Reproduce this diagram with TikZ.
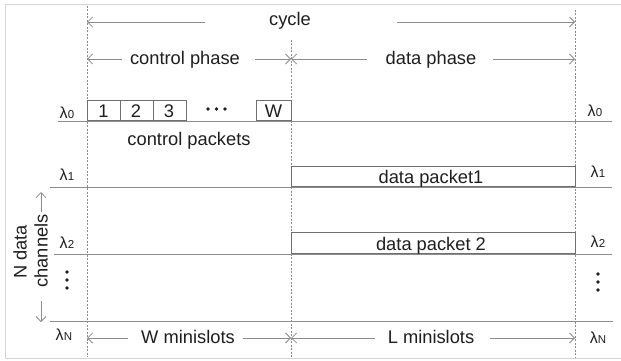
\documentclass[tikz,border=0pt]{standalone}
\usepackage{fontspec}
\setmainfont{Liberation Sans}
\usetikzlibrary{arrows.meta}
\definecolor{ln}{HTML}{8C8C8C}
\definecolor{bx}{HTML}{707070}
\definecolor{tx}{HTML}{1E1E1E}
\definecolor{fr}{HTML}{D4D4D4}
\newcommand{\lamsub}[1]{λ\kern0.2pt\raisebox{-0.6pt}{\fontsize{11.5}{12}\selectfont #1}}
\begin{document}
\begin{tikzpicture}[x=1pt,y=-1pt,
  lbl/.style={font=\fontsize{18.3}{21}\selectfont, text=tx, inner sep=0pt, anchor=base},
  lam/.style={font=\fontsize{16}{18}\selectfont, text=tx, inner sep=0pt, anchor=base},
  chan/.style={draw=ln, line width=1pt},
  vdash/.style={draw=ln, line width=0.6pt, dash pattern=on 2pt off 1.5pt},
  dim/.style={draw=ln, line width=0.75pt, -{Straight Barb[length=5pt,width=10pt]}},
  pkt/.style={draw=bx, line width=0.8pt, inner sep=0pt, anchor=south west},
  dot/.style={fill=tx, draw=none}
]
\useasboundingbox (0,0) rectangle (621,361);
% frame
\draw[fr, line width=1pt] (622,5) -- (5,5) -- (5,358) -- (622,358);

% dashed phase boundaries
\coordinate (LT) at (87,6);   \coordinate (LB) at (87,357);
\coordinate (MT) at (291,40); \coordinate (MB) at (291,357);
\coordinate (RT) at (575,10); \coordinate (RB) at (575,357);
\draw[vdash] (LT) -- (LB);
\draw[vdash] (MT) -- (MB);
\draw[vdash] (RT) -- (RB);

% cycle
\node[lbl] (cyc) at (290,26) {cycle};
\coordinate (cycA) at (205,22); \coordinate (cycAL) at (87,22);
\coordinate (cycB) at (397,22); \coordinate (cycBR) at (575,22);
\draw[dim] (cycA) -- (cycAL);
\draw[dim] (cycB) -- (cycBR);

% control / data phase
\node[lbl] (cph) at (185,65) {control phase};
\node[lbl] (dph) at (431,64) {data phase};
\coordinate (c1) at (122,59); \coordinate (c1L) at (87,59);
\coordinate (c2) at (255,59); \coordinate (cM) at (291,59);
\coordinate (d1) at (367,59); \coordinate (d2) at (493,59); \coordinate (dR) at (575,59);
\draw[dim] (c1) -- (c1L);
\draw[dim] (c2) -- (cM);
\draw[dim] (d1) -- (cM);
\draw[dim] (d2) -- (dR);

% channel lines
\coordinate (l0a) at (58,121);  \coordinate (l0b) at (612,121);
\coordinate (l1a) at (50,187);  \coordinate (l1b) at (612,187);
\coordinate (l2a) at (54,254);  \coordinate (l2b) at (612,254);
\coordinate (lNa) at (50,321);  \coordinate (lNb) at (613,321);
\draw[chan] (l0a) -- (l0b);
\draw[chan] (l1a) -- (l1b);
\draw[chan] (l2a) -- (l2b);
\draw[chan] (lNa) -- (lNb);

% control packets
\node[pkt, minimum width=32.5pt, minimum height=20pt] (p1) at (87,121) {};
\node[pkt, minimum width=33pt, minimum height=20pt] (p2) at (119.5,121) {};
\node[pkt, minimum width=33pt, minimum height=20pt] (p3) at (152.5,121) {};
\node[pkt, minimum width=35pt, minimum height=20pt] (pw) at (256,121) {};
\node[lbl] (t1) at (103.5,117) {1};
\node[lbl] (t2) at (136,117) {2};
\node[lbl] (t3) at (169,117) {3};
\node[lbl] (tw) at (273.5,117) {W};
\fill[dot] (208,109) circle (1.8);
\fill[dot] (216.5,109) circle (1.8);
\fill[dot] (225,109) circle (1.8);
\node[lbl] (cpk) at (189,145) {control packets};

% data packets
\node[pkt, minimum width=284pt, minimum height=20pt] (dp1) at (291,187) {};
\node[lbl] (dp1t) at (431,183) {data packet1};
\node[pkt, minimum width=284pt, minimum height=21pt] (dp2) at (291,254) {};
\node[lbl] (dp2t) at (431,250) {data packet 2};

% lambda labels
\node[lam] (la0) at (67,118) {\lamsub{0}};
\node[lam] (la1) at (67,180) {\lamsub{1}};
\node[lam] (la2) at (67,248) {\lamsub{2}};
\node[lam] (laN) at (64,340) {\lamsub{N}};
\node[lam] (ra0) at (595,116) {\lamsub{0}};
\node[lam] (ra1) at (598,177) {\lamsub{1}};
\node[lam] (ra2) at (598,247) {\lamsub{2}};
\node[lam] (raN) at (598,343) {\lamsub{N}};
\fill[dot] (67,272) circle (1.9);
\fill[dot] (67,280) circle (1.9);
\fill[dot] (67,288) circle (1.9);
\fill[dot] (598,274) circle (1.9);
\fill[dot] (598,282) circle (1.9);
\fill[dot] (598,290) circle (1.9);

% N data channels
\node[lbl, anchor=center, rotate=90] (nd) at (20,252) {N data};
\node[lbl, anchor=center, rotate=90] (ch) at (41,251) {channels};
\coordinate (chUp) at (41,192); \coordinate (chDn) at (41,322);
\coordinate (chU0) at (41,212); \coordinate (chD0) at (41,301);
\draw[dim] (chU0) -- (chUp);
\draw[dim] (chD0) -- (chDn);

% minislots
\node[lbl] (wm) at (188,343) {W minislots};
\node[lbl] (lm) at (431,343) {L minislots};
\coordinate (w1) at (128,338); \coordinate (w1L) at (87,338);
\coordinate (w2) at (243,338); \coordinate (wM) at (291,338);
\coordinate (m1) at (375,338); \coordinate (m2) at (490,338); \coordinate (mR) at (575,338);
\draw[dim] (w1) -- (w1L);
\draw[dim] (w2) -- (wM);
\draw[dim] (m1) -- (wM);
\draw[dim] (m2) -- (mR);
\end{tikzpicture}
\end{document}
